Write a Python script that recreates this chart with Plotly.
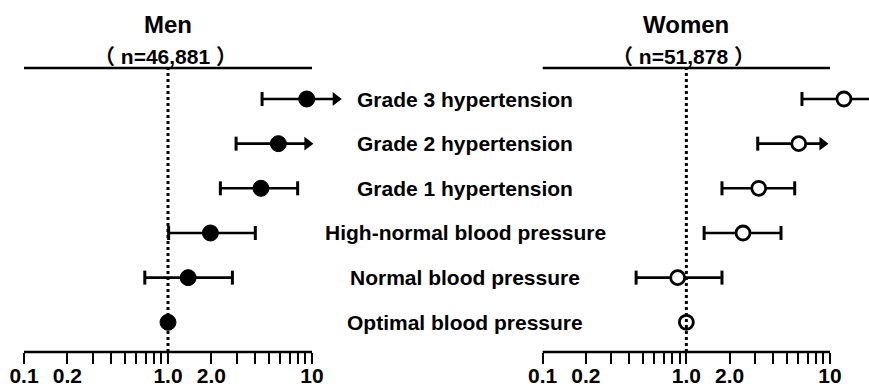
import plotly.graph_objects as go

# Risk categories, bottom (reference group) to top
categories = [
    "Optimal blood pressure",
    "Normal blood pressure",
    "High-normal blood pressure",
    "Grade 1 hypertension",
    "Grade 2 hypertension",
    "Grade 3 hypertension",
]

# Hazard ratios with 95% CI (upper bound is the drawn extent; arrows mark truncated CIs)
men_hr = [1.0, 1.38, 1.97, 4.42, 5.84, 9.19]
men_lo = [None, 0.69, 1.01, 2.31, 2.97, 4.50]
men_hi = [None, 2.80, 4.04, 7.95, 9.29, 14.6]
men_arrow = [False, False, False, False, True, True]

women_hr = [1.0, 0.87, 2.48, 3.19, 6.06, 12.5]
women_lo = [None, 0.447, 1.33, 1.77, 3.14, 6.38]
women_hi = [None, 1.77, 4.56, 5.68, 8.86, 19.6]
women_arrow = [False, False, False, False, True, True]

panel_titles = ["Men", "Women"]
panel_counts = ["n=46,881", "n=51,878"]

tick_values = [0.1, 0.2, 0.3, 0.4, 0.5, 0.6, 0.7, 0.8, 0.9,
               1, 2, 3, 4, 5, 6, 7, 8, 9, 10]
tick_labels = {0.1: "0.1", 0.2: "0.2", 1: "1.0", 2: "2.0", 10: "10"}

W, H = 869, 386
FONT = "Liberation Sans, Arial, Noto Sans CJK TC, sans-serif"
CJK = "Noto Sans CJK TC"
BLACK = "#000000"
Y_TOP_LINE = 5.694
Y_AXIS_LINE = -0.665

fig = go.Figure()


def add_panel(xa, hr, lo, hi, arrow, filled):
    rows = list(range(len(hr)))
    # CI segments
    lx, ly = [], []
    for i in rows:
        if lo[i] is not None:
            lx += [lo[i], hi[i], None]
            ly += [i, i, None]
    fig.add_trace(go.Scatter(x=lx, y=ly, xaxis=xa, yaxis="y", mode="lines",
                             line=dict(color=BLACK, width=2.6),
                             hoverinfo="skip", showlegend=False))
    # whisker caps
    cx, cy = [], []
    for i in rows:
        if lo[i] is not None:
            cx.append(lo[i]); cy.append(i)
            if not arrow[i]:
                cx.append(hi[i]); cy.append(i)
    fig.add_trace(go.Scatter(x=cx, y=cy, xaxis=xa, yaxis="y", mode="markers",
                             marker=dict(symbol="line-ns", size=10,
                                         line=dict(color=BLACK, width=3)),
                             cliponaxis=False, hoverinfo="skip", showlegend=False))
    # arrowheads for truncated intervals
    ax_, ay_ = [], []
    for i in rows:
        if arrow[i]:
            ax_.append(hi[i]); ay_.append(i)
    fig.add_trace(go.Scatter(x=ax_, y=ay_, xaxis=xa, yaxis="y", mode="markers",
                             marker=dict(symbol="triangle-right", size=12,
                                         color=BLACK, line=dict(width=0)),
                             cliponaxis=False, hoverinfo="skip", showlegend=False))
    # point estimates
    if filled:
        mk = dict(symbol="circle", size=16, color=BLACK,
                  line=dict(color=BLACK, width=1))
    else:
        mk = dict(symbol="circle", size=14, color="white",
                  line=dict(color=BLACK, width=2.8))
    fig.add_trace(go.Scatter(x=hr, y=rows, xaxis=xa, yaxis="y", mode="markers",
                             marker=mk, cliponaxis=False,
                             hoverinfo="skip", showlegend=False))


add_panel("x", men_hr, men_lo, men_hi, men_arrow, True)
add_panel("x2", women_hr, women_lo, women_hi, women_arrow, False)

ticktext = [tick_labels.get(v, "") for v in tick_values]
axis_common = dict(
    type="log", anchor="free", position=(H - 352) / H, automargin=False,
    tickmode="array", tickvals=tick_values, ticktext=ticktext,
    ticks="outside", ticklen=11, tickwidth=2, tickcolor=BLACK,
    ticklabelstandoff=-6,
    showline=False, showgrid=False, zeroline=False,
    tickfont=dict(family=FONT, size=21, color=BLACK, weight="bold"),
)

shapes = []
for xr in ["x", "x2"]:
    # top rule
    shapes.append(dict(type="line", xref=xr, yref="y", x0=0.1, x1=10,
                       y0=Y_TOP_LINE, y1=Y_TOP_LINE,
                       line=dict(color=BLACK, width=2.6)))
    # bottom axis line
    shapes.append(dict(type="line", xref=xr, yref="y", x0=0.1, x1=10,
                       y0=Y_AXIS_LINE, y1=Y_AXIS_LINE,
                       line=dict(color=BLACK, width=2.4)))
    # reference line at HR = 1
    shapes.append(dict(type="line", xref=xr, yref="y", x0=1, x1=1,
                       y0=Y_AXIS_LINE, y1=Y_TOP_LINE,
                       line=dict(color=BLACK, width=3, dash="dot")))

annotations = []
for cx, title, count in zip([168, 686], panel_titles, panel_counts):
    annotations.append(dict(xref="paper", yref="paper", x=cx / W, y=(H - 24) / H,
                            text=title, showarrow=False, xanchor="center",
                            yanchor="middle",
                            font=dict(family=FONT, size=24, color=BLACK, weight="bold")))
    count_text = (f"<span style=\"font-family:'{CJK}'\">（</span> {count} "
                  f"<span style=\"font-family:'{CJK}'\">）</span>")
    annotations.append(dict(xref="paper", yref="paper", x=(cx - 3) / W, y=(H - 55) / H,
                            text=count_text, showarrow=False, xanchor="center",
                            yanchor="middle",
                            font=dict(family=FONT, size=21, color=BLACK, weight="bold")))
for i, name in enumerate(categories):
    annotations.append(dict(xref="paper", yref="y", x=465 / W, y=i,
                            text=name, showarrow=False, xanchor="center",
                            yanchor="middle",
                            font=dict(family=FONT, size=21, color=BLACK, weight="bold")))

fig.update_layout(
    width=W, height=H,
    margin=dict(l=0, r=0, t=0, b=0, autoexpand=False),
    paper_bgcolor="white", plot_bgcolor="white",
    xaxis=dict(domain=[0, 355 / W], range=[-1.1667, 1.2986], **axis_common),
    xaxis2=dict(domain=[520 / W, 1.0], range=[-1.158, 1.2715], **axis_common),
    yaxis=dict(domain=[(H - 362.5) / H, (H - 58.8) / H], range=[-0.9, 5.9],
               visible=False, automargin=False),
    shapes=shapes,
    annotations=annotations,
    showlegend=False,
)

fig.write_html("out.html")
